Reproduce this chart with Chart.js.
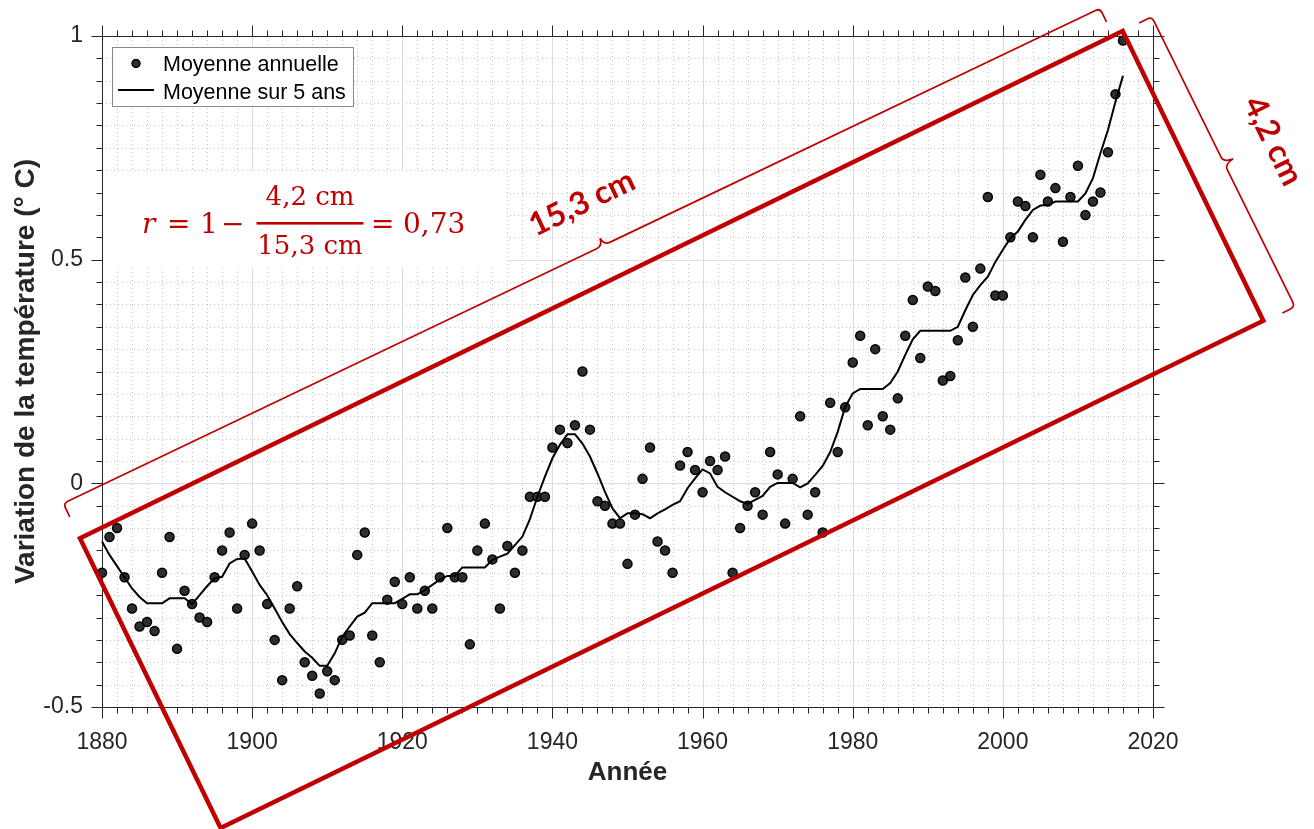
<!DOCTYPE html>
<html>
<head>
<meta charset="utf-8">
<title>Variation de la température</title>
<script src="https://cdn.jsdelivr.net/npm/chart.js@4.4.1/dist/chart.umd.min.js"></script>
<style>
  html, body { margin: 0; padding: 0; background: #ffffff; }
  #wrap { width: 1314px; height: 829px; position: relative; }
</style>
</head>
<body>
<div id="wrap"><canvas id="chart" width="1314" height="829"></canvas></div>
<script>
// ---- Data -----------------------------------------------------------------
const years = [
  1880, 1881, 1882, 1883, 1884, 1885, 1886, 1887, 1888, 1889,
  1890, 1891, 1892, 1893, 1894, 1895, 1896, 1897, 1898, 1899,
  1900, 1901, 1902, 1903, 1904, 1905, 1906, 1907, 1908, 1909,
  1910, 1911, 1912, 1913, 1914, 1915, 1916, 1917, 1918, 1919,
  1920, 1921, 1922, 1923, 1924, 1925, 1926, 1927, 1928, 1929,
  1930, 1931, 1932, 1933, 1934, 1935, 1936, 1937, 1938, 1939,
  1940, 1941, 1942, 1943, 1944, 1945, 1946, 1947, 1948, 1949,
  1950, 1951, 1952, 1953, 1954, 1955, 1956, 1957, 1958, 1959,
  1960, 1961, 1962, 1963, 1964, 1965, 1966, 1967, 1968, 1969,
  1970, 1971, 1972, 1973, 1974, 1975, 1976, 1977, 1978, 1979,
  1980, 1981, 1982, 1983, 1984, 1985, 1986, 1987, 1988, 1989,
  1990, 1991, 1992, 1993, 1994, 1995, 1996, 1997, 1998, 1999,
  2000, 2001, 2002, 2003, 2004, 2005, 2006, 2007, 2008, 2009,
  2010, 2011, 2012, 2013, 2014, 2015, 2016
];

// Annual mean temperature anomaly (°C)
const annualMean = [
  -0.20, -0.12, -0.10, -0.21, -0.28, -0.32, -0.31, -0.33, -0.20, -0.12,
  -0.37, -0.24, -0.27, -0.30, -0.31, -0.21, -0.15, -0.11, -0.28, -0.16,
  -0.09, -0.15, -0.27, -0.35, -0.44, -0.28, -0.23, -0.40, -0.43, -0.47,
  -0.42, -0.44, -0.35, -0.34, -0.16, -0.11, -0.34, -0.40, -0.26, -0.22,
  -0.27, -0.21, -0.28, -0.24, -0.28, -0.21, -0.10, -0.21, -0.21, -0.36,
  -0.15, -0.09, -0.17, -0.28, -0.14, -0.20, -0.15, -0.03, -0.03, -0.03,
   0.08,  0.12,  0.09,  0.13,  0.25,  0.12, -0.04, -0.05, -0.09, -0.09,
  -0.18, -0.07,  0.01,  0.08, -0.13, -0.15, -0.20,  0.04,  0.07,  0.03,
  -0.02,  0.05,  0.03,  0.06, -0.20, -0.10, -0.05, -0.02, -0.07,  0.07,
   0.02, -0.09,  0.01,  0.15, -0.07, -0.02, -0.11,  0.18,  0.07,  0.17,
   0.27,  0.33,  0.13,  0.30,  0.15,  0.12,  0.19,  0.33,  0.41,  0.28,
   0.44,  0.43,  0.23,  0.24,  0.32,  0.46,  0.35,  0.48,  0.64,  0.42,
   0.42,  0.55,  0.63,  0.62,  0.55,  0.69,  0.63,  0.66,  0.54,  0.64,
   0.71,  0.60,  0.63,  0.65,  0.74,  0.87,  0.99
];

// Five-year smoothed mean (°C)
const fiveYearMean = [
  -0.130, -0.160, -0.185, -0.210, -0.235, -0.254, -0.268, -0.268, -0.268, -0.257,
  -0.257, -0.257, -0.270, -0.250, -0.230, -0.212, -0.209, -0.179, -0.169, -0.168,
  -0.197, -0.227, -0.250, -0.280, -0.310, -0.337, -0.357, -0.376, -0.390, -0.408,
  -0.408, -0.380, -0.343, -0.320, -0.298, -0.289, -0.268, -0.268, -0.268, -0.268,
  -0.258, -0.248, -0.248, -0.239, -0.227, -0.215, -0.207, -0.207, -0.188, -0.188,
  -0.188, -0.188, -0.171, -0.164, -0.157, -0.138, -0.119, -0.080, -0.030,  0.015,
   0.056,  0.086,  0.110,  0.110,  0.089,  0.060,  0.022, -0.019, -0.056, -0.078,
  -0.067, -0.067, -0.069, -0.078, -0.067, -0.058, -0.048, -0.040, -0.011,  0.011,
   0.031,  0.022, -0.008, -0.020, -0.030, -0.040, -0.046, -0.037, -0.028, -0.008,
   0.001,  0.001,  0.001, -0.009,  0.000,  0.019,  0.039,  0.070,  0.115,  0.171,
   0.201,  0.211,  0.211,  0.211,  0.211,  0.224,  0.250,  0.287,  0.322,  0.341,
   0.341,  0.341,  0.341,  0.341,  0.350,  0.387,  0.421,  0.443,  0.462,  0.495,
   0.522,  0.548,  0.563,  0.589,  0.611,  0.621,  0.622,  0.630,  0.630,  0.630,
   0.630,  0.648,  0.682,  0.738,  0.790,  0.853,  0.911
];

const xTickValues = [1880, 1900, 1920, 1940, 1960, 1980, 2000, 2020];
const yTickValues = [-0.5, 0, 0.5, 1];

const seriesLabels = ['Moyenne annuelle', 'Moyenne sur 5 ans'];
const axisTitles = { x: 'Année', y: 'Variation de la température (° C)' };

// Annotation texts
const longSideText = '15,3 cm';
const shortSideText = '4,2 cm';
const formulaParts = { lhs: 'r', eq: '=', one: '1', minus: '−', num: '4,2 cm', den: '15,3 cm', result: '0,73' };

// ---- Styling ----------------------------------------------------------------
const AXIS_COLOR = '#262626';
const RED = '#c00000';
const SANS = '"Liberation Sans", Arial, Helvetica, sans-serif';
const SERIF = '"DejaVu Serif", "Liberation Serif", serif';
const LABEL_FONT = 'bold 32px Lato, "Open Sans", sans-serif';

// ---- Plugins ----------------------------------------------------------------
function seg(ctx, x1, y1, x2, y2) {
  ctx.beginPath(); ctx.moveTo(x1, y1); ctx.lineTo(x2, y2); ctx.stroke();
}

// Grid (minor dotted + major solid), axes box and outward ticks on all sides
const frameAndGrid = {
  id: 'frameAndGrid',
  beforeDatasetsDraw(chart) {
    const { ctx, chartArea: a, scales: { x, y } } = chart;
    ctx.save();
    ctx.lineWidth = 1;

    // minor grid: every 2 years / every 0.05 °C
    ctx.strokeStyle = '#c4c4c4';
    ctx.setLineDash([1, 3]);
    for (let yr = x.min; yr <= x.max; yr += 2) {
      if (yr % 20 === 0) continue;
      const px = Math.round(x.getPixelForValue(yr)) + 0.5;
      seg(ctx, px, a.top, px, a.bottom);
    }
    for (let k = Math.round(y.min / 0.05); k <= Math.round(y.max / 0.05); k++) {
      if (k % 10 === 0) continue;
      const py = Math.round(y.getPixelForValue(k * 0.05)) + 0.5;
      seg(ctx, a.left, py, a.right, py);
    }

    // major grid
    ctx.setLineDash([]);
    ctx.strokeStyle = '#dcdcdc';
    xTickValues.forEach(v => {
      const px = Math.round(x.getPixelForValue(v)) + 0.5;
      seg(ctx, px, a.top, px, a.bottom);
    });
    yTickValues.forEach(v => {
      const py = Math.round(y.getPixelForValue(v)) + 0.5;
      seg(ctx, a.left, py, a.right, py);
    });

    // box
    ctx.strokeStyle = AXIS_COLOR;
    const L = Math.round(a.left) + 0.5, R = Math.round(a.right) + 0.5;
    const T = Math.round(a.top) + 0.5, B = Math.round(a.bottom) + 0.5;
    ctx.strokeRect(L, T, R - L, B - T);

    // ticks (outward)
    const major = 11, minor = 6;
    for (let yr = x.min; yr <= x.max; yr += 2) {
      const len = yr % 20 === 0 ? major : minor;
      const px = Math.round(x.getPixelForValue(yr)) + 0.5;
      seg(ctx, px, B, px, B + len);
      seg(ctx, px, T, px, T - len);
    }
    for (let k = Math.round(y.min / 0.05); k <= Math.round(y.max / 0.05); k++) {
      const len = k % 10 === 0 ? major : minor;
      const py = Math.round(y.getPixelForValue(k * 0.05)) + 0.5;
      seg(ctx, L, py, L - len, py);
      seg(ctx, R, py, R + len, py);
    }
    ctx.restore();
  }
};

// Legend box inside the plot
const insideLegend = {
  id: 'insideLegend',
  afterDatasetsDraw(chart) {
    const { ctx, chartArea: a } = chart;
    const bx = a.left + 10, by = a.top + 11, bw = 241, bh = 59;
    ctx.save();
    ctx.fillStyle = '#ffffff';
    ctx.fillRect(bx, by, bw, bh);
    ctx.strokeStyle = '#8a8a8a';
    ctx.lineWidth = 1;
    ctx.strokeRect(Math.round(bx) + 0.5, Math.round(by) + 0.5, bw, bh);

    const ds = chart.data.datasets;
    // marker entry
    ctx.beginPath();
    ctx.arc(bx + 24, by + 16.5, 4, 0, Math.PI * 2);
    ctx.fillStyle = ds[0].pointBackgroundColor;
    ctx.fill();
    ctx.lineWidth = ds[0].pointBorderWidth;
    ctx.strokeStyle = ds[0].pointBorderColor;
    ctx.stroke();
    // line entry
    ctx.lineWidth = ds[1].borderWidth;
    ctx.strokeStyle = ds[1].borderColor;
    seg(ctx, bx + 6, by + 43, bx + 42, by + 43);

    ctx.fillStyle = '#000000';
    ctx.font = '21.5px ' + SANS;
    ctx.textBaseline = 'alphabetic';
    ctx.textAlign = 'left';
    ctx.fillText(ds[0].label, bx + 51, by + 24);
    ctx.fillText(ds[1].label, bx + 51, by + 51.5);
    ctx.restore();
  }
};

// Curly brace along a segment, end hooks bent toward (tx, ty)
function brace(ctx, ax, ay, bx, by, tipFrac, hook, tip, tx, ty) {
  const len = Math.hypot(bx - ax, by - ay);
  const dx = (bx - ax) / len, dy = (by - ay) / len;
  let nx = -dy, ny = dx;
  const mx = (ax + bx) / 2, my = (ay + by) / 2;
  if ((tx - mx) * nx + (ty - my) * ny < 0) { nx = -nx; ny = -ny; }
  const r = 5;
  const cx = ax + dx * len * tipFrac, cy = ay + dy * len * tipFrac;
  ctx.beginPath();
  ctx.moveTo(ax + nx * hook, ay + ny * hook);
  ctx.lineTo(ax + nx * r, ay + ny * r);
  ctx.quadraticCurveTo(ax, ay, ax + dx * r, ay + dy * r);
  ctx.lineTo(cx - dx * 7, cy - dy * 7);
  ctx.quadraticCurveTo(cx - dx * 1, cy - dy * 1, cx - nx * tip, cy - ny * tip);
  ctx.moveTo(cx - nx * tip, cy - ny * tip);
  ctx.quadraticCurveTo(cx + dx * 1, cy + dy * 1, cx + dx * 7, cy + dy * 7);
  ctx.lineTo(bx - dx * r, by - dy * r);
  ctx.quadraticCurveTo(bx, by, bx + nx * r, by + ny * r);
  ctx.lineTo(bx + nx * hook, by + ny * hook);
  ctx.stroke();
}

function rotatedText(ctx, text, cx, cy, angle, font) {
  ctx.save();
  ctx.translate(cx, cy);
  ctx.rotate(angle);
  ctx.font = font;
  ctx.textAlign = 'center';
  ctx.textBaseline = 'middle';
  ctx.fillText(text, 0, 0);
  ctx.restore();
}

// Red construction: enclosing rectangle, side braces, lengths and the formula
const redConstruction = {
  id: 'redConstruction',
  afterDraw(chart) {
    const { ctx } = chart;
    ctx.save();
    ctx.strokeStyle = RED;
    ctx.fillStyle = RED;

    // enclosing rectangle
    const P = [[80, 538.3], [1122.7, 31], [1263.3, 320.7], [220.6, 828]];
    ctx.lineWidth = 4.5;
    ctx.lineJoin = 'miter';
    ctx.beginPath();
    ctx.moveTo(P[0][0], P[0][1]);
    for (let i = 1; i < 4; i++) ctx.lineTo(P[i][0], P[i][1]);
    ctx.closePath();
    ctx.stroke();

    const cx = (P[0][0] + P[2][0]) / 2, cy = (P[0][1] + P[2][1]) / 2;
    ctx.lineWidth = 1.7;
    ctx.lineJoin = 'round';
    brace(ctx, 63.3, 503.3, 1100, 8.3, 0.521, 15, 8, cx, cy);
    brace(ctx, 1151.7, 16.7, 1295, 306.7, 0.5055, 14, 10, cx, cy);

    rotatedText(ctx, longSideText, 582, 203, Math.atan2(8.3 - 503.3, 1100 - 63.3), LABEL_FONT);
    rotatedText(ctx, shortSideText, 1273, 141, Math.atan2(306.7 - 16.7, 1295 - 1151.7), LABEL_FONT);

    // formula on a white card
    ctx.fillStyle = '#ffffff';
    ctx.fillRect(104, 171, 403, 97);
    ctx.fillStyle = RED;
    ctx.textBaseline = 'alphabetic';
    ctx.textAlign = 'left';
    const base = 233;
    ctx.font = 'italic 28px ' + SERIF;
    ctx.fillText(formulaParts.lhs, 142, base);
    ctx.font = '28px ' + SERIF;
    ctx.fillText(formulaParts.eq, 167, base);
    ctx.fillText(formulaParts.one, 200, base);
    ctx.fillText(formulaParts.minus, 221, base);
    ctx.fillText(formulaParts.eq, 371, base);
    ctx.fillText(formulaParts.result, 403, base);
    ctx.font = '26px ' + SERIF;
    ctx.textAlign = 'center';
    ctx.fillText(formulaParts.num, 310, 205);
    ctx.fillText(formulaParts.den, 310, 254);
    ctx.fillRect(256.5, 222, 107, 2.6);
    ctx.restore();
  }
};

// ---- Chart --------------------------------------------------------------------
const ctx = document.getElementById('chart').getContext('2d');
new Chart(ctx, {
  type: 'line',
  data: {
    datasets: [
      {
        label: seriesLabels[0],
        data: years.map((yr, i) => ({ x: yr, y: annualMean[i] })),
        showLine: false,
        pointRadius: 4.5,
        pointHoverRadius: 4.5,
        pointBackgroundColor: '#2e2e2e',
        pointBorderColor: '#000000',
        pointBorderWidth: 1.5,
        clip: false,
        order: 2
      },
      {
        label: seriesLabels[1],
        data: years.map((yr, i) => ({ x: yr, y: fiveYearMean[i] })),
        borderColor: '#000000',
        borderWidth: 2,
        pointRadius: 0,
        tension: 0,
        fill: false,
        clip: false,
        order: 1
      }
    ]
  },
  options: {
    responsive: false,
    devicePixelRatio: 1,
    animation: false,
    events: [],
    layout: { padding: { top: 36, right: 161, bottom: 0, left: 0 } },
    plugins: { legend: { display: false }, tooltip: { enabled: false } },
    scales: {
      x: {
        type: 'linear',
        min: 1880, max: 2020,
        afterBuildTicks: s => { s.ticks = xTickValues.map(v => ({ value: v })); },
        afterFit: s => { s.height = 122; },
        grid: { display: false, drawTicks: false },
        border: { display: false },
        ticks: {
          color: AXIS_COLOR, padding: 22, maxRotation: 0,
          font: { family: SANS, size: 23, lineHeight: 1.2 },
          callback: v => String(v)
        },
        title: {
          display: true, text: axisTitles.x, color: AXIS_COLOR,
          font: { family: SANS, size: 26, weight: 'bold', lineHeight: 1.2 },
          padding: { top: 0, bottom: 41 }
        }
      },
      y: {
        type: 'linear',
        min: -0.5, max: 1,
        afterBuildTicks: s => { s.ticks = yTickValues.map(v => ({ value: v })); },
        afterFit: s => { s.width = 102; },
        grid: { display: false, drawTicks: false },
        border: { display: false },
        ticks: {
          color: AXIS_COLOR, padding: 19,
          font: { family: SANS, size: 23, lineHeight: 1.2 },
          callback: v => String(v)
        },
        title: {
          display: true, text: axisTitles.y, color: AXIS_COLOR,
          font: { family: SANS, size: 28, weight: 'bold', lineHeight: 1.2 },
          padding: { top: 9, bottom: 0 }
        }
      }
    }
  },
  plugins: [frameAndGrid, insideLegend, redConstruction]
});
</script>
</body>
</html>
